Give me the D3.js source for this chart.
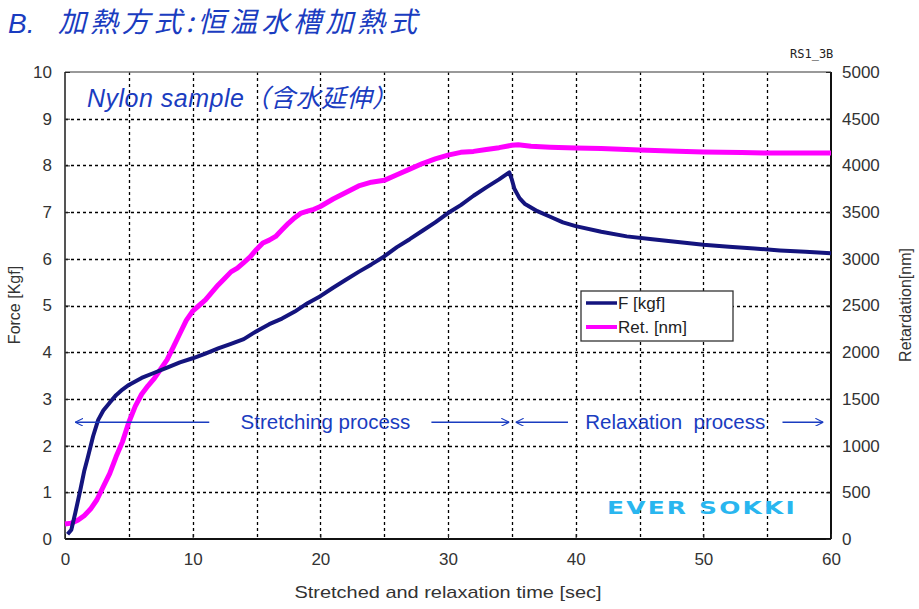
<!DOCTYPE html>
<html><head><meta charset="utf-8">
<script src="https://cdn.jsdelivr.net/npm/d3@7"></script>
<style>body{margin:0;background:#fff;} svg{display:block;}</style>
</head><body>
<svg id="c" width="919" height="609"></svg>
<script>
// ---- data ----
const forceTime = [0.2,0.5,0.8,1.2,1.5,1.8,2.2,2.6,3.0,3.5,4.0,4.5,5.0,6.0,7.0,8.0,9.0,10.0,11.0,12.0,13.0,14.0,15.0,16.0,17.0,18.0,19.0,20.0,21.0,22.0,23.0,24.0,25.0,26.0,27.0,28.0,29.0,30.0,31.0,32.0,33.0,34.0,34.8,35.0,35.2,35.6,36.0,37.0,38.0,39.0,40.0,42.0,44.0,46.0,48.0,50.0,52.0,54.0,56.0,58.0,60.0];
const forceVals = [0.1,0.2,0.55,1.05,1.45,1.76,2.2,2.55,2.75,2.92,3.08,3.2,3.3,3.45,3.56,3.67,3.78,3.87,3.97,4.08,4.18,4.28,4.45,4.6,4.72,4.87,5.05,5.2,5.38,5.55,5.72,5.88,6.05,6.25,6.42,6.6,6.78,6.98,7.15,7.35,7.53,7.7,7.85,7.7,7.5,7.3,7.18,7.02,6.9,6.78,6.7,6.58,6.48,6.42,6.36,6.3,6.26,6.22,6.18,6.15,6.12];
const retTime = [0,0.5,1.0,1.5,2.0,2.5,3.0,3.5,4.0,4.5,5.0,5.5,6.0,6.5,7.0,7.5,8.0,8.5,9.0,9.5,10.0,10.5,11.0,11.5,12.0,12.5,13.0,13.5,14.0,14.5,15.0,15.5,16.0,16.5,17.0,17.5,18.0,18.5,19.0,19.5,20.0,21.0,22.0,23.0,24.0,25.0,26.0,27.0,28.0,29.0,30.0,31.0,32.0,33.0,34.0,35.0,35.5,36.5,38.0,40.0,42.0,45.0,48.0,50.0,53.0,55.0,58.0,60.0];
const retVals = [160,170,200,250,320,420,560,700,880,1040,1250,1420,1550,1640,1720,1820,1920,2060,2200,2340,2440,2500,2560,2640,2720,2790,2860,2900,2960,3020,3100,3170,3200,3240,3310,3380,3440,3490,3510,3530,3560,3640,3710,3780,3820,3840,3900,3960,4020,4070,4110,4140,4150,4170,4190,4215,4220,4205,4195,4186,4180,4165,4152,4143,4138,4133,4133,4133];
const xTicks = [0,10,20,30,40,50,60];
const yLeftTicks = [0,1,2,3,4,5,6,7,8,9,10];
const yRightTicks = [0,500,1000,1500,2000,2500,3000,3500,4000,4500,5000];
const seriesNames = ["F [kgf]", "Ret. [nm]"];

// ---- layout ----
const L = 65, R = 831, T = 72, B = 539;
const svg = d3.select("#c");
const x = d3.scaleLinear().domain([0,60]).range([L,R]);
const yF = d3.scaleLinear().domain([0,10]).range([B,T]);
const yR = d3.scaleLinear().domain([0,5000]).range([B,T]);
const blue = "#1a3cc0", navy = "#14147e", mag = "#ff00ff";

// grid
const g = svg.append("g");
g.selectAll("line.v").data(d3.range(5,60,5)).join("line")
  .attr("x1",d=>Math.round(x(d))+0.5).attr("x2",d=>Math.round(x(d))+0.5).attr("y1",T).attr("y2",B)
  .attr("stroke","#000").attr("stroke-width",1.3).attr("stroke-dasharray","3,3");
g.selectAll("line.h").data(d3.range(1,10)).join("line")
  .attr("y1",d=>Math.round(yF(d))+0.5).attr("y2",d=>Math.round(yF(d))+0.5).attr("x1",L).attr("x2",R)
  .attr("stroke","#000").attr("stroke-width",1.3).attr("stroke-dasharray","3,3");

// frame
svg.append("line").attr("x1",L).attr("x2",R).attr("y1",T).attr("y2",T).attr("stroke","#777").attr("stroke-width",1.5);
svg.append("line").attr("x1",L).attr("x2",L).attr("y1",T).attr("y2",B).attr("stroke","#555").attr("stroke-width",2);
svg.append("line").attr("x1",R).attr("x2",R).attr("y1",T).attr("y2",B).attr("stroke","#111").attr("stroke-width",2);
svg.append("line").attr("x1",L).attr("x2",R).attr("y1",B).attr("y2",B).attr("stroke","#111").attr("stroke-width",2);

// axes
const tickFont = "'Liberation Sans', Arial, sans-serif";
const axL = svg.append("g").attr("transform",`translate(${L},0)`)
  .call(d3.axisLeft(yF).tickValues(yLeftTicks).tickFormat(d3.format("d")).tickSize(-5).tickPadding(13));
const axRt = svg.append("g").attr("transform",`translate(${R},0)`)
  .call(d3.axisRight(yR).tickValues(yRightTicks).tickFormat(d3.format("d")).tickSize(-5).tickPadding(11));
const axB = svg.append("g").attr("transform",`translate(0,${B})`)
  .call(d3.axisBottom(x).tickValues(xTicks).tickFormat(d3.format("d")).tickSize(-5).tickPadding(14));
[axL,axRt,axB].forEach(a=>{
  a.select(".domain").remove();
  a.selectAll(".tick line").attr("stroke","#222");
  a.selectAll(".tick text").attr("fill","#333").style("font-family",tickFont).style("font-size","17px");
});

// lines
const fData = forceTime.map((t,i)=>[t,forceVals[i]]);
const rData = retTime.map((t,i)=>[t,retVals[i]]);
svg.append("path").datum(rData).attr("fill","none").attr("stroke",mag).attr("stroke-width",5)
  .attr("stroke-linejoin","round").attr("d",d3.line().x(d=>x(d[0])).y(d=>yR(d[1])));
svg.append("path").datum(fData).attr("fill","none").attr("stroke",navy).attr("stroke-width",4)
  .attr("stroke-linejoin","round").attr("d",d3.line().x(d=>x(d[0])).y(d=>yF(d[1])));

// titles
svg.append("text").attr("x",8).attr("y",33).attr("fill",blue)
  .style("font-family","'Liberation Sans', Arial, sans-serif").style("font-style","italic").style("font-size","28px").text("B.");
svg.append("text").attr("x",58).attr("y",32).attr("fill",blue)
  .attr("textLength",359).attr("lengthAdjust","spacing")
  .style("font-family","'Noto Sans CJK JP', sans-serif").style("font-style","italic").style("font-size","28px")
  .text("加熱方式:恒温水槽加熱式");
svg.append("text").attr("x",790).attr("y",58).attr("fill","#222")
  .style("font-family","'DejaVu Sans Mono', monospace").style("font-size","12px").text("RS1_3B");
svg.append("text").attr("x",87).attr("y",107).attr("fill",blue)
  .attr("textLength",310).attr("lengthAdjust","spacing")
  .style("font-family","'Liberation Sans', 'Noto Sans CJK JP', sans-serif").style("font-style","italic").style("font-size","25px")
  .text("Nylon sample（含水延伸）");

// axis titles
const axT = "'Liberation Sans', Arial, sans-serif";
svg.append("text").attr("transform","translate(20,305) rotate(-90)").attr("text-anchor","middle")
  .attr("fill","#333").style("font-family",axT).style("font-size","16px").text("Force [Kgf]");
svg.append("text").attr("transform","translate(911,305) rotate(-90)").attr("text-anchor","middle")
  .attr("fill","#333").style("font-family",axT).style("font-size","16px").text("Retardation[nm]");
svg.append("text").attr("x",448).attr("y",598).attr("text-anchor","middle")
  .attr("fill","#333").attr("textLength",307).attr("lengthAdjust","spacingAndGlyphs")
  .style("font-family",axT).style("font-size","17px").text("Stretched and relaxation time [sec]");

// arrows / process labels
const defs = svg.append("defs");
defs.append("marker").attr("id","ah").attr("viewBox","0 0 10 10").attr("refX",10).attr("refY",5)
  .attr("markerWidth",8).attr("markerHeight",8).attr("orient","auto-start-reverse").attr("markerUnits","userSpaceOnUse")
  .append("path").attr("d","M0,0 L10,5 L0,10").attr("fill","none").attr("stroke",blue).attr("stroke-width",1.3);
const ay = yF(2.5);
function arrow(x1,x2){
  svg.append("line").attr("x1",x1).attr("x2",x2).attr("y1",ay).attr("y2",ay)
    .attr("stroke",blue).attr("stroke-width",1.3).attr("marker-end","url(#ah)");
}
arrow(x(11.3),x(0.8)); arrow(x(28.7),x(34.8));
arrow(x(39.4),x(35.3)); arrow(x(56.2),x(59.4));
const pf = "'Liberation Sans', Arial, sans-serif";
svg.append("text").attr("x",x(20.4)).attr("y",ay+7).attr("text-anchor","middle").attr("fill",blue)
  .style("font-family",pf).style("font-size","20.5px").text("Stretching process");
svg.append("text").attr("x",x(47.8)).attr("y",ay+7).attr("text-anchor","middle").attr("fill",blue)
  .attr("xml:space","preserve").style("white-space","pre")
  .style("font-family",pf).style("font-size","20.5px").text("Relaxation  process");

// logo
svg.append("text").attr("x",607).attr("y",514).attr("fill","#29b6ef")
  .attr("textLength",190).attr("lengthAdjust","spacingAndGlyphs")
  .style("font-family","'DejaVu Sans', sans-serif").style("font-weight","600").style("font-size","17px")
  .style("letter-spacing","1.5px")
  .text("EVER SOKKI");

// legend
const lg = svg.append("g").attr("transform","translate(581,291)");
lg.append("rect").attr("width",152).attr("height",50).attr("fill","#fff").attr("stroke","#333").attr("stroke-width",1.3);
const lcol = [navy, mag];
seriesNames.forEach((n,i)=>{
  const yy = 12 + i*24;
  lg.append("line").attr("x1",5).attr("x2",36).attr("y1",yy).attr("y2",yy).attr("stroke",lcol[i]).attr("stroke-width",i?4:3.5);
  lg.append("text").attr("x",37).attr("y",yy+6).attr("fill","#222")
    .style("font-family","'Liberation Sans', Arial, sans-serif").style("font-size","17px").text(n);
});
</script>
</body></html>
